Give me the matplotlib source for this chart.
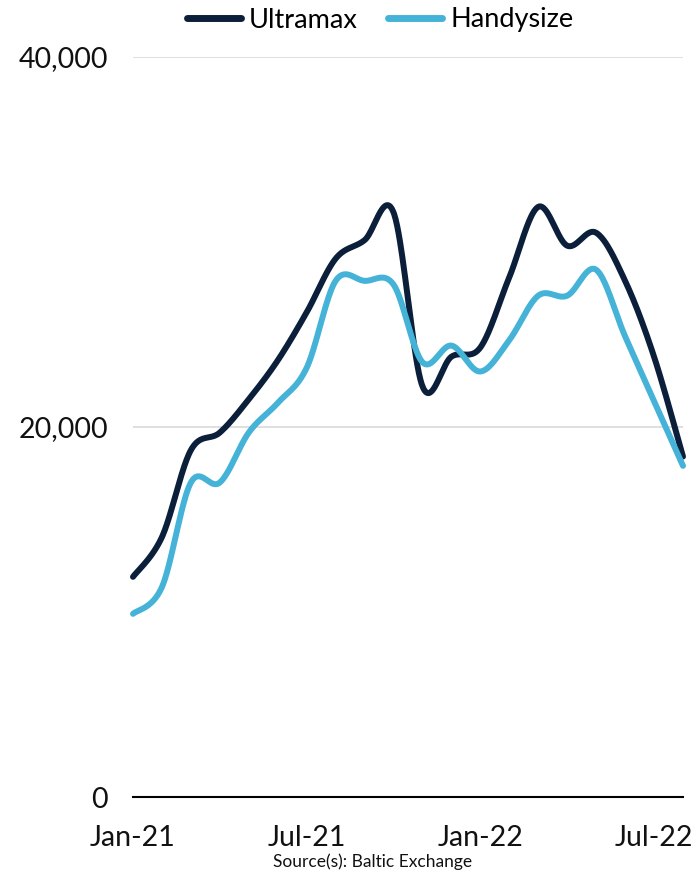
import numpy as np
import matplotlib
matplotlib.use("Agg")
import matplotlib.pyplot as plt
from matplotlib.lines import Line2D

months = ["Jan-21", "Feb-21", "Mar-21", "Apr-21", "May-21", "Jun-21", "Jul-21", "Aug-21",
          "Sep-21", "Oct-21", "Nov-21", "Dec-21", "Jan-22", "Feb-22", "Mar-22", "Apr-22",
          "May-22", "Jun-22", "Jul-22", "Aug-22"]
ultramax = [11900, 14050, 18750, 19700, 21500, 23600, 26200, 29100, 30100, 31600,
            22200, 23800, 24300, 28100, 31900, 29800, 30500, 27900, 23800, 18400]
handysize = [9900, 11350, 17000, 17000, 19700, 21300, 23200, 27900, 27900, 27700,
             23500, 24400, 23000, 24700, 27100, 27100, 28500, 24900, 21400, 17900]
tick_labels = ["Jan-21", "Jul-21", "Jan-22", "Jul-22"]
tick_idx = [0, 6, 12, 18]
y_ticks = [0, 20000, 40000]

NAVY = "#0b1f3a"
BLUE = "#45b2d8"
FONT = ["Lato", "DejaVu Sans"]
plt.rcParams["font.family"] = FONT


def catmull_rom(y, n=40):
    y = np.asarray(y, float)
    x = np.arange(len(y), dtype=float)
    P = np.concatenate([[y[0]], y, [y[-1]]])
    X = np.concatenate([[x[0]], x, [x[-1]]])
    xs, ys = [], []
    for i in range(1, len(P) - 2):
        t = np.linspace(0, 1, n, endpoint=False)
        for arr, out in ((X, xs), (P, ys)):
            p0, p1, p2, p3 = arr[i - 1], arr[i], arr[i + 1], arr[i + 2]
            c1 = p1 + (p2 - p0) / 6
            c2 = p2 - (p3 - p1) / 6
            out.append((1 - t) ** 3 * p1 + 3 * (1 - t) ** 2 * t * c1 + 3 * (1 - t) * t ** 2 * c2 + t ** 3 * p2)
    xs.append([x[-1]]); ys.append([y[-1]])
    return np.concatenate(xs), np.concatenate(ys)


fig = plt.figure(figsize=(6.97, 8.75), dpi=100)
ax = fig.add_axes([133 / 697, 1 - 797 / 875, 550 / 697, 740 / 875])

for vals, col in ((ultramax, NAVY), (handysize, BLUE)):
    xs, ys = catmull_rom(vals)
    ax.plot(xs, ys, color=col, lw=4.3, solid_capstyle="round", clip_on=False)

ax.set_xlim(0, len(months) - 1)
ax.set_ylim(0, 40000)
ax.set_yticks(y_ticks)
ax.set_yticklabels([f"{v:,}" for v in y_ticks])
ax.set_xticks(tick_idx)
ax.set_xticklabels(tick_labels)
ax.tick_params(axis="y", length=0, pad=18, labelsize=20.5, colors="#111111")
ax.tick_params(axis="x", length=0, pad=20, labelsize=20.5, colors="#111111")
for v in y_ticks[1:]:
    ax.axhline(v, color="#d9d9d9", lw=1.2, zorder=0)
for s in ["top", "right", "left"]:
    ax.spines[s].set_visible(False)
ax.spines["bottom"].set_color("#000000")
ax.spines["bottom"].set_linewidth(1.5)

handles = [Line2D([], [], color=NAVY, lw=5, solid_capstyle="round"),
           Line2D([], [], color=BLUE, lw=5, solid_capstyle="round")]
fig.legend(handles, ["Ultramax", "Handysize"], loc="center", bbox_to_anchor=(380 / 697, 1 - 20 / 875),
           ncol=2, frameon=False, fontsize=19.5, handlelength=2.0, handletextpad=0.3, columnspacing=1.1)

fig.text(373 / 697, 1 - 862 / 875, "Source(s): Baltic Exchange", ha="center", va="center", fontsize=12.5,
         color="#111111")

fig.savefig("out.png", dpi=100)
